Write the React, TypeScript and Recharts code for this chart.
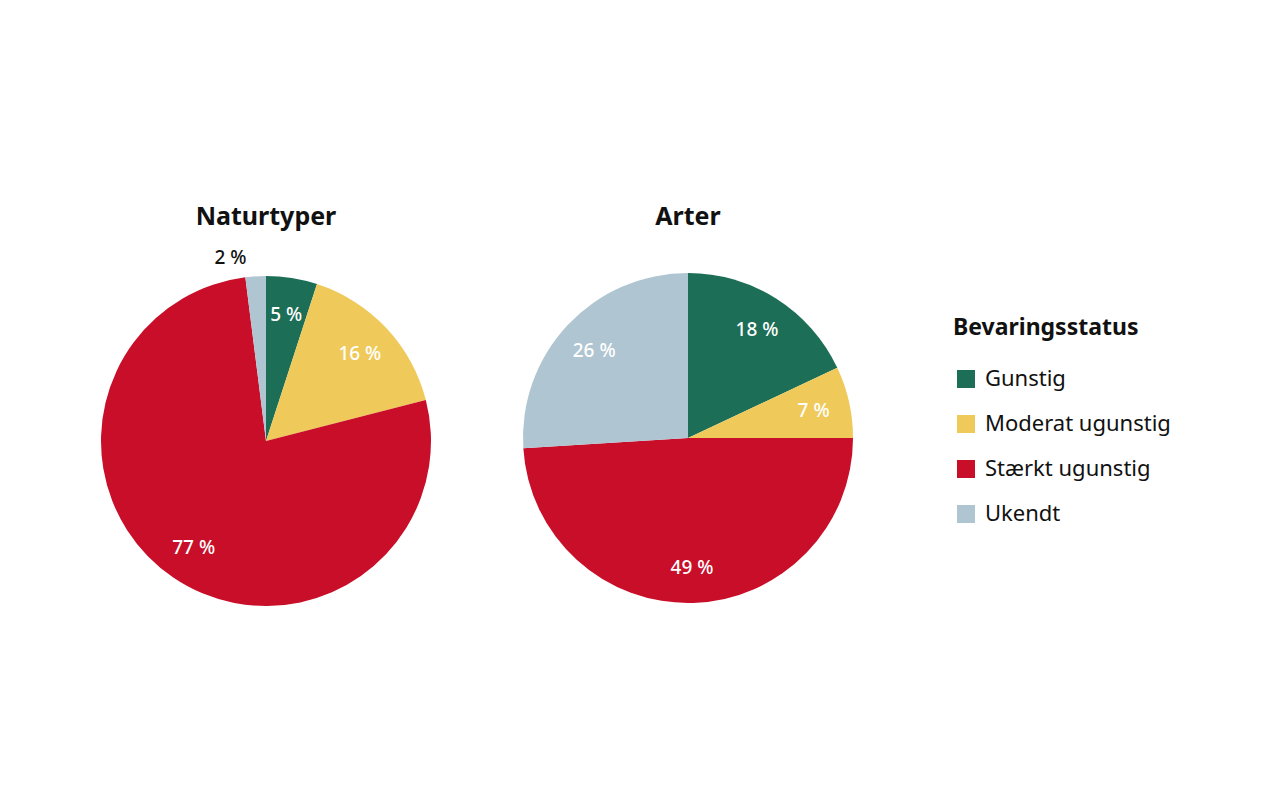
import { PieChart, Pie, Cell, Legend } from "recharts";

if (typeof document !== "undefined") {
  document.body.style.margin = "0";
}

const statuses = ["Gunstig", "Moderat ugunstig", "Stærkt ugunstig", "Ukendt"];
const statusColors = ["#1c6e56", "#efc95a", "#c80e28", "#afc5d1"];
const naturtyperValues = [5, 16, 77, 2];
const arterValues = [18, 7, 49, 26];
const chartTitles = ["Naturtyper", "Arter"];
const legendTitle = "Bevaringsstatus";

const FONT = "'Noto Sans', 'Open Sans', sans-serif";

const naturtyperData = statuses.map((name, i) => ({ name, value: naturtyperValues[i] }));
const arterData = statuses.map((name, i) => ({ name, value: arterValues[i] }));

const RAD = Math.PI / 180;

function renderLabel(props: any) {
  const { cx, cy, midAngle, outerRadius, value } = props;
  const outside = value < 4;
  const r = outside ? outerRadius * 1.12 : outerRadius * 0.78;
  const x = cx + r * Math.cos(-midAngle * RAD);
  const y = cy + r * Math.sin(-midAngle * RAD);
  return (
    <text
      x={x}
      y={y}
      dx={outside ? -24 : 0}
      fill={outside ? "#111" : "#fff"}
      textAnchor="middle"
      dominantBaseline="central"
      fontFamily={FONT}
      fontSize={19}
      fontWeight={500}
    >
      {`${value} %`}
    </text>
  );
}

function LegendBox() {
  return (
    <div style={{ fontFamily: FONT, color: "#111" }}>
      <div style={{ fontSize: 23, fontWeight: 700, lineHeight: "30px", marginBottom: 13 }}>
        {legendTitle}
      </div>
      {statuses.map((s, i) => (
        <div key={s} style={{ display: "flex", alignItems: "center", height: 45 }}>
          <span
            style={{
              display: "inline-block",
              width: 18,
              height: 18,
              background: statusColors[i],
              marginLeft: 4,
              marginRight: 10,
              marginTop: 4,
            }}
          />
          <span style={{ fontSize: 22 }}>{s}</span>
        </div>
      ))}
    </div>
  );
}

const titleStyle = {
  position: "absolute" as const,
  width: 200,
  top: 198,
  textAlign: "center" as const,
  fontFamily: FONT,
  fontWeight: 700,
  fontSize: 25,
  color: "#111",
};

export default function App() {
  return (
    <div style={{ position: "relative", width: 1280, height: 800, background: "#fff" }}>
      <div style={{ ...titleStyle, left: 166 }}>{chartTitles[0]}</div>
      <div style={{ ...titleStyle, left: 588 }}>{chartTitles[1]}</div>
      <PieChart
        width={1280}
        height={800}
        margin={{ top: 0, right: 0, bottom: 0, left: 0 }}
        style={{ position: "absolute", left: 0, top: 0 }}
      >
        <Pie
          data={naturtyperData}
          dataKey="value"
          nameKey="name"
          cx={266}
          cy={441}
          outerRadius={165}
          startAngle={90}
          endAngle={-270}
          stroke="none"
          label={renderLabel}
          labelLine={false}
          isAnimationActive={false}
        >
          {naturtyperData.map((d, i) => (
            <Cell key={d.name} fill={statusColors[i]} />
          ))}
        </Pie>
        <Pie
          data={arterData}
          dataKey="value"
          nameKey="name"
          cx={688}
          cy={438}
          outerRadius={165}
          startAngle={90}
          endAngle={-270}
          stroke="none"
          label={renderLabel}
          labelLine={false}
          isAnimationActive={false}
        >
          {arterData.map((d, i) => (
            <Cell key={d.name} fill={statusColors[i]} />
          ))}
        </Pie>
        <Legend
          content={<LegendBox />}
          wrapperStyle={{ position: "absolute", left: 953, top: 311, width: 260 }}
        />
      </PieChart>
    </div>
  );
}
